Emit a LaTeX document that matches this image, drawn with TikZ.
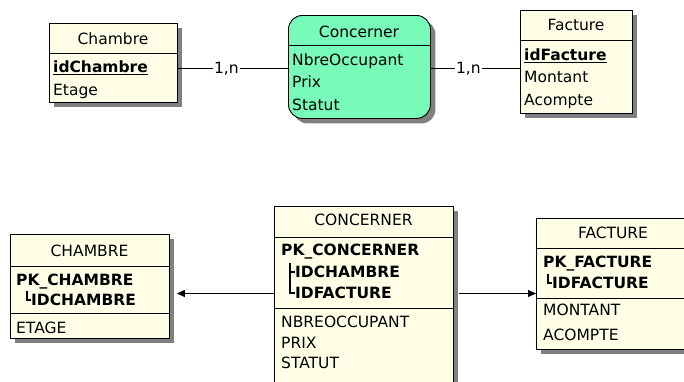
\documentclass[tikz,border=0pt]{standalone}
\usepackage{fontspec}
\setmainfont{DejaVu Sans}
\usetikzlibrary{arrows.meta,shadows}

\definecolor{boxfill}{RGB}{255,255,232}
\definecolor{assocfill}{RGB}{120,250,185}
\definecolor{shadowgray}{RGB}{128,128,128}

\begin{document}
\begin{tikzpicture}[x=1pt,y=-1pt,
  txt/.style={font=\fontsize{15.5}{18}\selectfont, inner sep=0pt, text height=11.5pt, text depth=0pt},
  lbl/.style={txt, anchor=west},
  ttl/.style={txt, anchor=center},
  entbox/.style={draw=black, line width=0.9pt, fill=boxfill, anchor=north west, inner sep=0pt,
    drop shadow={shadow xshift=5pt, shadow yshift=-5pt, fill=shadowgray, opacity=1}},
  assocbox/.style={entbox, fill=assocfill, rounded corners=14pt},
  sep/.style={draw=black, line width=0.9pt},
  link/.style={draw=black, line width=0.9pt},
  card/.style={txt, fill=white, inner sep=1pt},
  fk/.style={draw=black, line width=1.4pt},
  ref/.style={draw=black, line width=1.1pt, -{Triangle[length=8pt,width=7pt]}}
]
\useasboundingbox (0,0) rectangle (684,381);
\clip (0,0) rectangle (684,381);

% ---------- conceptual model ----------
\node[entbox, minimum width=128pt, minimum height=79pt] (chA) at (49,23) {};
\draw[sep] (chA.west |- 0,53) -- (chA.east |- 0,53);
\node[ttl] (chAt) at (113,39) {Chambre};
\node[lbl] (chA1) at (53,67) {\underline{\textbf{idChambre}}};
\node[lbl] (chA2) at (53,90) {Etage};

\node[assocbox, minimum width=142pt, minimum height=103pt] (coA) at (288,15) {};
\draw[sep] (coA.west |- 0,45) -- (coA.east |- 0,45);
\node[ttl] (coAt) at (359,32) {Concerner};
\node[lbl] (coA1) at (292,60) {NbreOccupant};
\node[lbl] (coA2) at (292,82) {Prix};
\node[lbl] (coA3) at (292,105) {Statut};

\node[entbox, minimum width=112pt, minimum height=103pt] (faA) at (520,10) {};
\draw[sep] (faA.west |- 0,40) -- (faA.east |- 0,40);
\node[ttl] (faAt) at (576,25) {Facture};
\node[lbl] (faA1) at (524,55) {\underline{\textbf{idFacture}}};
\node[lbl] (faA2) at (524,77) {Montant};
\node[lbl] (faA3) at (524,100) {Acompte};

\draw[link] (chA.east |- 0,68) -- node[card, pos=0.44] (cardL) {1,n} (coA.west |- 0,68);
\draw[link] (coA.east |- 0,68) -- node[card, pos=0.42] (cardR) {1,n} (faA.west |- 0,68);

% ---------- physical model ----------
\node[entbox, minimum width=159pt, minimum height=104pt] (chB) at (10,234) {};
\draw[sep] (chB.west |- 0,266) -- (chB.east |- 0,266);
\draw[sep] (chB.west |- 0,313) -- (chB.east |- 0,313);
\node[ttl] (chBt) at (89.5,251) {CHAMBRE};
\node[lbl] (chB1) at (16,280) {\textbf{PK\_CHAMBRE}};
\node[lbl] (chB2) at (31,300) {\textbf{IDCHAMBRE}};
\node[lbl] (chB3) at (16,328) {ETAGE};
\draw[fk] (27,291) -- (27,300) -- (chB2.west);

\node[entbox, minimum width=179pt, minimum height=190pt] (coB) at (274,206) {};
\draw[sep] (coB.west |- 0,237) -- (coB.east |- 0,237);
\draw[sep] (coB.west |- 0,308) -- (coB.east |- 0,308);
\node[ttl] (coBt) at (363.5,220) {CONCERNER};
\node[lbl] (coB1) at (281,250) {\textbf{PK\_CONCERNER}};
\node[lbl] (coB2) at (295,272) {\textbf{IDCHAMBRE}};
\node[lbl] (coB3) at (295,293) {\textbf{IDFACTURE}};
\node[lbl] (coB4) at (281,322) {NBREOCCUPANT};
\node[lbl] (coB5) at (281,343) {PRIX};
\node[lbl] (coB6) at (281,363) {STATUT};
\draw[fk] (290,263) -- (290,293) -- (coB3.west);
\draw[fk] (290,272) -- (coB2.west);

\node[entbox, minimum width=154pt, minimum height=131pt] (faB) at (536,218) {};
\draw[sep] (faB.west |- 0,248) -- (faB.east |- 0,248);
\draw[sep] (faB.west |- 0,298) -- (faB.east |- 0,298);
\node[ttl] (faBt) at (613,233) {FACTURE};
\node[lbl] (faB1) at (543,262) {\textbf{PK\_FACTURE}};
\node[lbl] (faB2) at (552,283) {\textbf{IDFACTURE}};
\node[lbl] (faB3) at (543,310) {MONTANT};
\node[lbl] (faB4) at (543,335) {ACOMPTE};
\draw[fk] (548,274) -- (548,283) -- (faB2.west);

\draw[ref, shorten >=7pt] (coB.west |- 0,293.5) -- (chB.east |- 0,293.5);
\draw[ref, shorten <=5pt] (coB.east |- 0,293.5) -- (faB.west |- 0,293.5);
\end{tikzpicture}
\end{document}
